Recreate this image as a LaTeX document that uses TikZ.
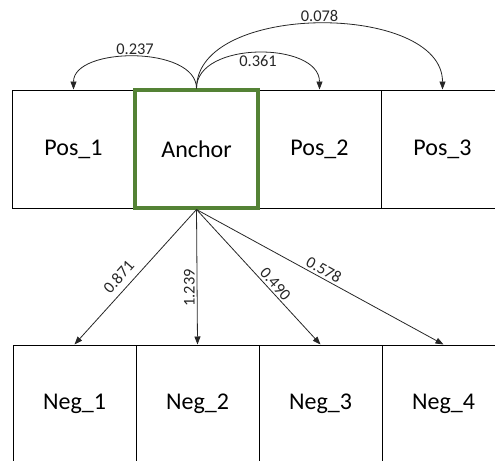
\documentclass[tikz,border=0pt]{standalone}
\usepackage{fontspec}
\setmainfont{Carlito}
\usepackage{tikz}
\usetikzlibrary{arrows.meta}

\definecolor{anchorgreen}{RGB}{84,130,53}

\tikzset{
  cellbox/.style={draw=black, line width=0.75pt, minimum width=92.25pt, minimum height=88.5pt, inner sep=0pt, font=\fontsize{18}{21}\selectfont},
  anchorbox/.style={cellbox, draw=anchorgreen, line width=2.3pt},
  simlink/.style={draw=black!85, line width=0.6pt, -{Triangle[length=6pt,width=4.5pt]}},
  simlabel/.style={font=\fontsize{12.3}{14}\selectfont, inner sep=1.5pt, text=black!85}
}

\begin{document}
\begin{tikzpicture}[x=0.75pt,y=0.75pt,yscale=-1,xscale=1]
\useasboundingbox (0,0) rectangle (495,460);

% Top row
\node [cellbox] (pos1) at (73.5,149) {Pos\_1};
\node [cellbox] (pos2) at (319.5,149) {Pos\_2};
\node [cellbox] (pos3) at (442.5,149) {Pos\_3};
\node [anchorbox] (anchor) at (196.5,149) {Anchor};

% Bottom row
\node [cellbox] (neg1) at (74.5,404) {Neg\_1};
\node [cellbox] (neg2) at (197.5,404) {Neg\_2};
\node [cellbox] (neg3) at (320.5,404) {Neg\_3};
\node [cellbox] (neg4) at (443.5,404) {Neg\_4};

% Arcs to positives
\draw [simlink] (anchor.north) .. controls +(0,-43) and +(0,-43) .. node [simlabel, above] {0.237} (pos1.north);
\draw [simlink] (anchor.north) .. controls +(0,-48) and +(0,-48) .. node [simlabel, below] {0.361} (pos2.north);
\draw [simlink] (anchor.north) .. controls +(0,-87) and +(0,-87) .. node [simlabel, above] {0.078} (pos3.north);

% Lines to negatives
\draw [simlink] (anchor.south) -- node [simlabel, anchor=south, rotate=48.5, inner ysep=5pt, pos=0.56] {0.871} (neg1.north);
\draw [simlink] (anchor.south) -- node [simlabel, anchor=south, rotate=90, pos=0.58] {1.239} (neg2.north);
\draw [simlink] (anchor.south) -- node [simlabel, anchor=south, rotate=-48, pos=0.59] {0.490} (neg3.north);
\draw [simlink] (anchor.south) -- node [simlabel, anchor=south, rotate=-29, pos=0.50] {0.578} (neg4.north);

\end{tikzpicture}
\end{document}
